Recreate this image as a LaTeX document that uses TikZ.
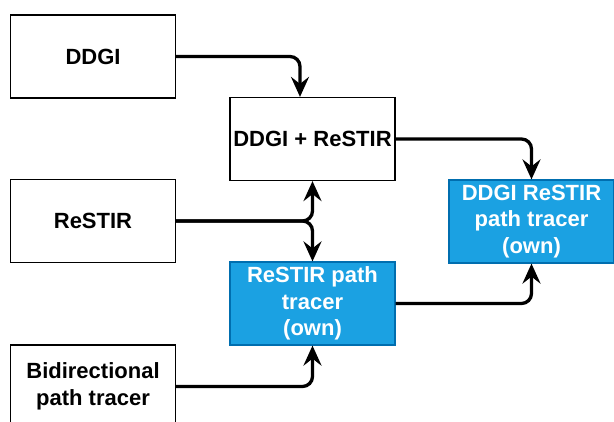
\documentclass[tikz,border=0pt]{standalone}
\usepackage{fontspec}
\setmainfont{Liberation Sans}
\usepackage{tikz}
\usetikzlibrary{
  positioning,
  calc,
  arrows.meta
}
\definecolor{ownfill}{HTML}{1BA1E2}
\definecolor{ownline}{HTML}{006EAF}

\tikzset{
  part/.style={draw, line width=1.2pt, minimum width=165pt, minimum height=83pt,
    align=center, inner sep=0pt,
    font=\fontsize{22}{26.7}\selectfont\bfseries},
  ownpart/.style={part, fill=ownfill, draw=ownline, text=white},
  flow/.style={line width=3.3pt, rounded corners=10pt,
    -{Stealth[length=20pt, width=18pt, inset=7pt]}}
}

\begin{document}
\begin{tikzpicture}[x=1pt, y=-1pt]
      \clip (0,0) rectangle (614,421);

      % Inputs
      \node[part] (ddgi) at (93,56.5) {DDGI};
      \node[part] (restir) at (93,221) {ReSTIR};
      \node[part] (bdpt) at (93,386.5) {Bidirectional\\path tracer};

      % Combinations
      \node[part] (mix) at (312.5,139) {DDGI + ReSTIR};
      \node[ownpart] (own) at (312.5,303.5) {ReSTIR path\\tracer\\(own)};
      \node[ownpart] (ddgiown) at (531.5,221.5) {DDGI ReSTIR\\path tracer\\(own)};

      % Connections
      \draw[flow] (ddgi.east) -| ($(mix.north)+(-12.5,0)$);
      \draw[flow] (restir.east) -| (mix.south);
      \draw[flow] (restir.east) -| (own.north);
      \draw[flow] (bdpt.east) -| (own.south);
      \draw[flow] (mix.east) -| (ddgiown.north);
      \draw[flow] (own.east) -| (ddgiown.south);
    \end{tikzpicture}
\end{document}
